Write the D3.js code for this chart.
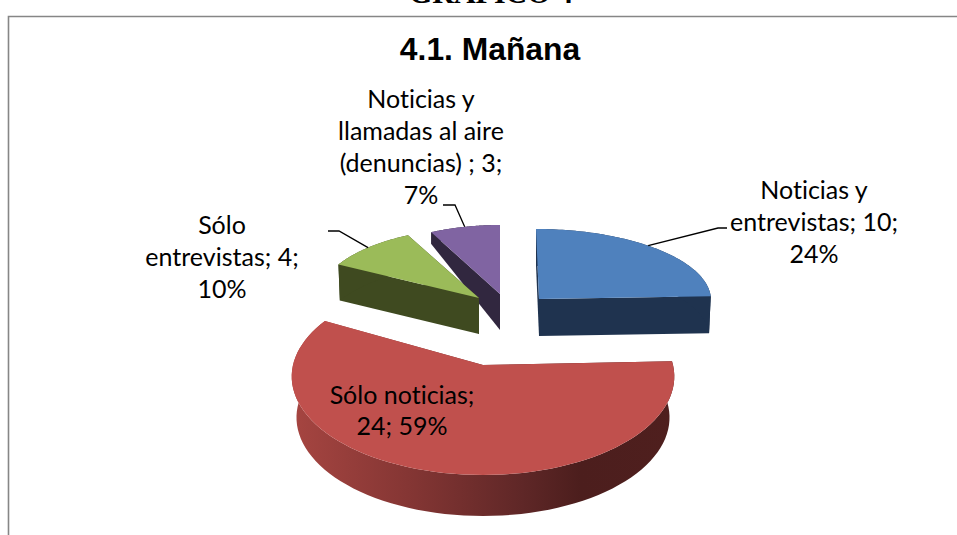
<!DOCTYPE html>
<html><head><meta charset="utf-8">
<script src="https://cdn.jsdelivr.net/npm/d3@7/dist/d3.min.js"></script>
<style>html,body{margin:0;padding:0;background:#fff}svg{display:block}text{font-variant-ligatures:none}</style>
</head><body><svg id="c" width="957" height="535"></svg>
<script>
const categories = ["Noticias y entrevistas", "Sólo noticias", "Sólo entrevistas", "Noticias y llamadas al aire (denuncias)"];
const seriesValues = [10, 24, 4, 3];
const percentLabels = ["24%", "59%", "10%", "7%"];
const labelLines = [
  ["Noticias y", "entrevistas; 10;", "24%"],
  ["Sólo noticias;", "24; 59%"],
  ["Sólo", "entrevistas; 4;", "10%"],
  ["Noticias y", "llamadas al aire", "(denuncias) ; 3;", "7%"]
];
const chartTitle = "4.1. Mañana";
const pageHeading = "GRÁFICO 4";
const topColors = ["#4f81bd", "#c0504d", "#9bbb59", "#8064a2"];
const wallColors = ["#1f334f", "url(#redWall)", "#3f4a20", "#31273f"];

// projection of each exploded slice
const geo = [
  {cx:539, cy:299, rx:172, up:70, down:70, skew:-3, depth:37, backDepth:0, inset:.99},
  {cx:483, cy:365, rx:190, up:87, down:110, skew:0, depth:41, backDepth:0, inset:.975},
  {cx:479, cy:298, rx:160, up:70, down:70, skew:0, depth:36, backDepth:0, inset:.99},
  {cx:500, cy:294, rx:155, up:69, down:69, skew:0, depth:36, backDepth:-27, inset:1}
];
const labels = [
  {x:814, y:199, at:.46, lead:[[718,228],[727,228]]},
  {x:402, y:404, at:.5},
  {x:222, y:234, at:.5, lead:[[339,231],[328,231]]},
  {x:421, y:108, at:.5, lead:[[455,205],[443,205]]}
];

const svg = d3.select("#c");
const defs = svg.append("defs");
const g = defs.append("linearGradient").attr("id","redWall").attr("gradientUnits","userSpaceOnUse")
  .attr("x1",292).attr("x2",676).attr("y1",0).attr("y2",0);
[[0,"#a64541"],[.3,"#853634"],[.6,"#5f2727"],[.75,"#4c1e1d"],[1,"#4f1f1e"]].forEach(s=>g.append("stop").attr("offset",s[0]).attr("stop-color",s[1]));

svg.append("path").attr("d","M8.5,535V16.5H957").attr("fill","none").attr("stroke","#868686").attr("stroke-width",1.6);
svg.append("text").attr("x",491).attr("y",3).attr("text-anchor","middle")
  .attr("font-family","Liberation Serif").attr("font-weight","bold").attr("font-size",30).text(pageHeading);
svg.append("text").attr("x",490).attr("y",60).attr("text-anchor","middle")
  .attr("font-family","Liberation Sans").attr("font-weight","bold").attr("font-size",31.8).attr("fill","#000").text(chartTitle);

const project = (q, a, r=1) => {
  const px = Math.sin(a)*r, py = Math.cos(a)*r;
  const ry = 2/(1/q.up+1/q.down), k = ry/q.up-1, w = 1/(1+k*py);
  return [q.cx + q.rx*px*w + q.skew*py, q.cy - ry*py*w];
};
const lower = (q, p, a, r=1) => {
  const py = Math.cos(a)*r;
  return [q.cx + (p[0]-q.cx)*q.inset, p[1] + q.depth + q.backDepth*Math.max(py,0)];
};
const line = d3.line();
const arcs = d3.pie().sort(null).value(d=>d).startAngle(0).endAngle(2*Math.PI)(seriesValues);

const drawOrder = [3,2,0,1];
drawOrder.forEach(i=>{
  const d = arcs[i], q = geo[i];
  const angles = d3.range(0,81).map(t=>d.startAngle+(d.endAngle-d.startAngle)*t/80);
  const wall = svg.append("g").attr("fill",wallColors[i]);
  const apex=[q.cx,q.cy], apexLow=lower(q,apex,0,0);
  // cut faces
  [d.startAngle,d.endAngle].forEach(a=>{
    const p=project(q,a);
    wall.append("path").attr("d",line([apex,p,lower(q,p,a),apexLow])+"Z");
  });
  // rim as one band
  const upper = angles.map(a=>project(q,a));
  const bottom = angles.map((a,j)=>lower(q,upper[j],a)).reverse();
  wall.append("path").attr("d",line([...upper,...bottom])+"Z");
  svg.append("path").attr("d",line([apex,...upper])+"Z").attr("fill",topColors[i]);
});

labels.forEach((l,i)=>{
  if(l.lead){
    const a=arcs[i].startAngle+(arcs[i].endAngle-arcs[i].startAngle)*l.at;
    svg.append("path").attr("d",line([project(geo[i],a),...l.lead])).attr("fill","none").attr("stroke","#000").attr("stroke-width",1.3);
  }
  labelLines[i].forEach((t,j)=>{
    svg.append("text").attr("x",l.x).attr("y",l.y+j*(i===1?30.5:32)).attr("text-anchor","middle")
      .attr("font-family","Lato").attr("font-size",25).attr("fill","#000").text(t);
  });
});
</script></body></html>
